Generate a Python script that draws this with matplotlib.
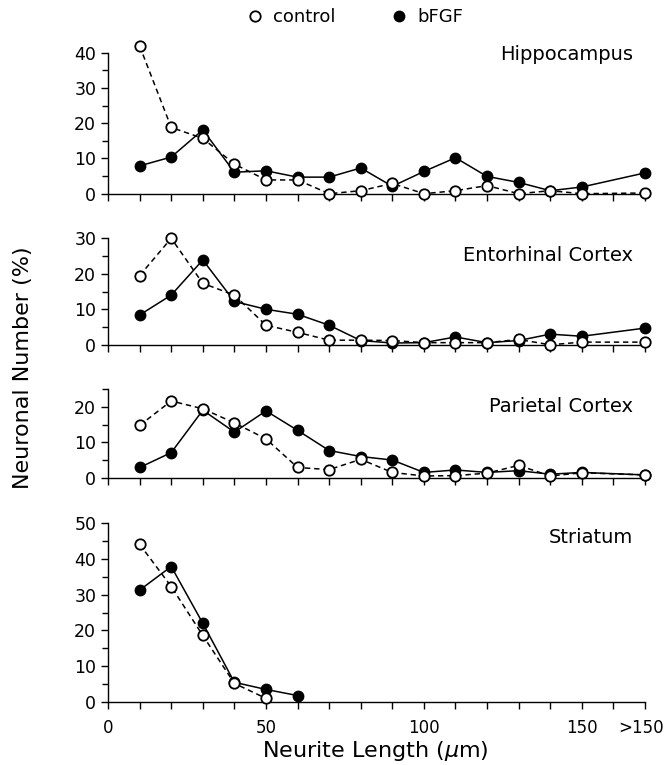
import matplotlib
matplotlib.use('Agg')
import matplotlib.pyplot as plt
import matplotlib.transforms as mtransforms
from matplotlib.lines import Line2D
from matplotlib.ticker import MultipleLocator

# neurite length bins (170 stands for ">150")
x = [10, 20, 30, 40, 50, 60, 70, 80, 90, 100, 110, 120, 130, 140, 150, 170]
xticks = [0, 50, 100, 150, 170]
xticklabels = ['0', '50', '100', '150', '>150']

regions = ['Hippocampus', 'Entorhinal Cortex', 'Parietal Cortex', 'Striatum']

hip_control = [41.9, 18.8, 15.7, 8.4, 3.9, 3.9, 0, 0.85, 2.9, 0, 0.85, 2.3, 0, 0.85, 0, 0.2]
hip_bfgf = [7.9, 10.4, 18.1, 6.1, 6.5, 4.7, 4.7, 7.3, 2.1, 6.3, 10.2, 4.9, 3.2, 0.85, 1.9, 5.9]

ent_control = [19.5, 30.0, 17.3, 14.0, 5.5, 3.5, 1.3, 1.3, 1.2, 0.6, 0.6, 0.6, 1.5, 0.0, 0.75, 0.75]
ent_bfgf = [8.4, 14.0, 23.9, 12.2, 10.0, 8.6, 5.5, 1.2, 0.5, 0.6, 2.2, 0.6, 1.2, 3.0, 2.4, 4.7]

par_control = [14.8, 21.7, 19.5, 15.5, 11.0, 2.9, 2.3, 5.2, 1.5, 0.5, 0.6, 1.3, 3.5, 0.5, 1.4, 0.8]
par_bfgf = [2.9, 7.1, 19.1, 12.9, 18.9, 13.4, 7.7, 6.0, 5.0, 1.5, 2.2, 1.5, 2.0, 1.0, 1.5, 0.8]

str_x_control = [10, 20, 30, 40, 50]
str_control = [44.1, 32.3, 18.6, 5.2, 1.0]
str_x_bfgf = [10, 20, 30, 40, 50, 60]
str_bfgf = [31.3, 37.9, 22.0, 5.5, 3.5, 1.8]

ytops = [40, 30, 25, 50]

panels = [
    (x, hip_control, x, hip_bfgf),
    (x, ent_control, x, ent_bfgf),
    (x, par_control, x, par_bfgf),
    (str_x_control, str_control, str_x_bfgf, str_bfgf),
]

# axes boxes in figure fractions (left, bottom, width, height)
left, width = 0.162, 0.805
boxes = [(0.7468, 0.1843), (0.5493, 0.1392), (0.3755, 0.1156), (0.0824, 0.2336)]
title_y = [0.984, 0.834, 0.811, 0.918]

fig = plt.figure(figsize=(6.67, 7.65), dpi=100)

for i, (xc, yc, xb, yb) in enumerate(panels):
    bottom, height = boxes[i]
    ax = fig.add_axes([left, bottom, width, height])
    ax.plot(xb, yb, '-', color='black', lw=1.1, marker='o', ms=7.5,
            mfc='black', mec='black', mew=1.0, clip_on=False, zorder=3)
    ax.plot(xc, yc, '--', color='black', lw=1.1, dashes=(3.5, 2.5), marker='o',
            ms=7.5, mfc='white', mec='black', mew=1.3, clip_on=False, zorder=4)
    ax.set_xlim(0, 170)
    ax.set_ylim(0, ytops[i])
    for s in ['top', 'right']:
        ax.spines[s].set_visible(False)
    for s in ['left', 'bottom']:
        ax.spines[s].set_linewidth(1.0)
    ax.set_xticks(xticks)
    ax.xaxis.set_minor_locator(MultipleLocator(10))
    ax.yaxis.set_major_locator(MultipleLocator(10))
    ax.yaxis.set_minor_locator(MultipleLocator(5))
    ax.tick_params(which='major', direction='out', length=5, width=1.0, labelsize=12.5)
    ax.tick_params(which='minor', direction='out', length=4, width=1.0)
    ax.tick_params(axis='x', which='both', length=5, pad=7, labelsize=12)
    if i == 3:
        ax.set_xticklabels(xticklabels)
        # nudge ">150" a little left so it stays inside the figure
        last = ax.get_xticklabels()[-1]
        last.set_transform(last.get_transform() +
                           mtransforms.ScaledTranslation(-3 / 72, 0, fig.dpi_scale_trans))
    else:
        ax.set_xticklabels([])
    ax.text(0.978, title_y[i], regions[i], transform=ax.transAxes,
            ha='right', va='center', fontsize=14)

fig.text(0.035, 0.52, 'Neuronal Number (%)', rotation=90, ha='center',
         va='center', fontsize=16)
fig.text(0.562, 0.018, r'Neurite Length ($\mu$m)', ha='center', va='center',
         fontsize=16)

handles = [
    Line2D([], [], ls='none', marker='o', ms=7.5, mfc='white', mec='black', mew=1.3),
    Line2D([], [], ls='none', marker='o', ms=7.5, mfc='black', mec='black'),
]
fig.legend(handles, ['control', 'bFGF'], loc='center', bbox_to_anchor=(0.533, 0.978),
           ncol=2, frameon=False, fontsize=13, handlelength=0.8,
           handletextpad=0.6, columnspacing=3.1)

fig.savefig('out.png', dpi=100)
